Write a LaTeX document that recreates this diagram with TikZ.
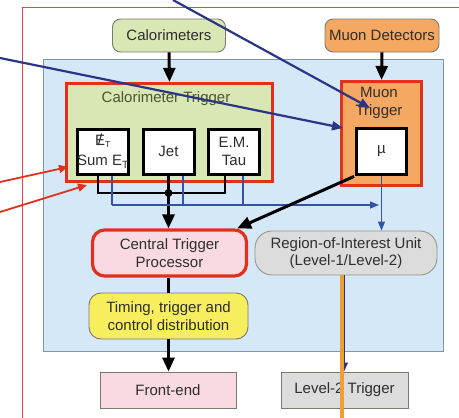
\documentclass[tikz,border=0pt]{standalone}
\usepackage{fontspec}
\setmainfont{Liberation Sans}
\usetikzlibrary{arrows.meta}
\definecolor{skyfill}{HTML}{D5E8F8}
\definecolor{skyline}{HTML}{7F95A8}
\definecolor{greenfill}{HTML}{D9E7B4}
\definecolor{orangefill}{HTML}{F4A862}
\definecolor{redline}{HTML}{E0301E}
\definecolor{pinkfill}{HTML}{F9D9E2}
\definecolor{greyfill}{HTML}{DCDCDC}
\definecolor{yellowfill}{HTML}{F7EE5E}
\definecolor{navy}{HTML}{2C3585}
\definecolor{busblue}{HTML}{3452A6}
\definecolor{orangeline}{HTML}{F0A032}
\definecolor{frame}{HTML}{D44A4A}
\definecolor{txt}{HTML}{2E2E2E}
\definecolor{oltxt}{HTML}{4A5530}
\definecolor{edge}{HTML}{7A7A70}
\tikzset{
  lbl/.style={font=\fontsize{15}{17.5}\selectfont, text=txt, align=center, inner sep=0pt},
  softbox/.style={lbl, draw=edge, line width=0.9pt, rounded corners=#1},
  redbox/.style={lbl, draw=redline, line width=3.2pt},
  subbox/.style={lbl, draw=black, fill=white, line width=3pt, minimum width=51pt, minimum height=45pt},
  plainbox/.style={lbl, draw=edge, line width=0.9pt},
  blk/.style={draw=black, line width=3pt, -{Triangle[length=14pt,width=12pt]}},
  blkline/.style={draw=black, line width=3pt},
  bus/.style={draw=black, line width=2.2pt},
  bbus/.style={draw=busblue, line width=1.4pt},
  barrow/.style={bbus, -{Triangle[length=9pt,width=7pt]}},
  narrow/.style={draw=navy, line width=2.2pt, -{Triangle[length=11pt,width=9pt]}},
  rarrow/.style={draw=redline, line width=1.8pt, -{Triangle[length=9pt,width=8pt]}}
}
\begin{document}
\begin{tikzpicture}[x=1pt,y=-1pt]
\useasboundingbox (0,0) rectangle (459,418);
% outer frame
\coordinate (fbl) at (22,418);
\coordinate (ftl) at (22,7);
\coordinate (ftr) at (459,7);
\draw[frame, line width=1pt] (fbl) -- (ftl) -- (ftr);
% blue background
\node[draw=skyline, fill=skyfill, line width=0.9pt, minimum width=400pt, minimum height=292pt, inner sep=0pt] (bg) at (243,205) {};
% sources
\node[softbox=8pt, fill=greenfill, minimum width=113pt, minimum height=33pt] (calo) at (169,35.5) {Calorimeters};
\node[softbox=8pt, fill=orangefill, minimum width=114pt, minimum height=33pt] (muondet) at (382,35.5) {Muon Detectors};
% trigger containers
\node[redbox, fill=greenfill, minimum width=206pt, minimum height=98pt] (caltrig) at (169.5,132.5) {};
\node[redbox, fill=orangefill, minimum width=80pt, minimum height=104pt] (muontrig) at (381.5,133.5) {};
\node[lbl, text=oltxt] (caltitle) at (166,99) {Calorimeter Trigger};
\node[lbl] (mutitle) at (379,103) {Muon\\Trigger};
% sub boxes
\node[subbox] (et) at (103,151.5) {\fontsize{12.5}{14}\selectfont\ooalign{\fontsize{15}{15}\selectfont E\cr\hidewidth\fontsize{16}{16}\selectfont/\hidewidth}\textsubscript{T}\\[3pt]Sum E\textsubscript{T}};
\node[subbox] (jet) at (168.5,151.5) {Jet};
\node[subbox] (em) at (234,151.5) {E.M.\\Tau};
\node[subbox, minimum width=50pt, minimum height=46pt] (mu) at (381.5,151.5) {\textmu};
% lower boxes
\node[redbox, fill=pinkfill, rounded corners=12pt, minimum width=154pt, minimum height=46pt] (ctp) at (169.5,253) {Central Trigger\\Processor};
\node[softbox=17pt, draw=edge!80, fill=greyfill, minimum width=182pt, minimum height=44pt] (roi) at (346,253) {Region-of-Interest Unit\\(Level-1/Level-2)};
\node[softbox=12pt, draw=edge, fill=yellowfill, minimum width=159pt, minimum height=46pt] (timing) at (168.5,316) {Timing, trigger and\\control distribution};
\node[plainbox, fill=pinkfill, minimum width=136pt, minimum height=36pt] (fe) at (168,390) {Front-end};
\node[plainbox, fill=greyfill, minimum width=127pt, minimum height=36pt] (l2) at (344.5,390) {Level-2 Trigger};
% source arrows
\draw[blk] (calo.south) -- (caltrig.north);
\draw[blk] (muondet.south) -- (muontrig.north);
% black bus
\coordinate (jn) at (168.5,193);
\draw[bus] ([xshift=-5pt]et.south) |- (jn) -| ([xshift=-9pt]em.south);
\draw[bus] (jet.south) -- (jn);
\fill (jn) circle (4pt);
\draw[blk] (jn) -- (jn |- ctp.north);
% blue bus
\coordinate (bb) at (112,205);
\coordinate (btip) at (379,205);
\coordinate (jb) at ([xshift=14.5pt]jet.south);
\coordinate (eb) at ([xshift=9pt]em.south);
\draw[bbus] ([xshift=9pt]et.south) -- (bb);
\draw[bbus] (jb) -- (bb -| jb);
\draw[bbus] (eb) -- (bb -| eb);
\draw[barrow] (bb) -- (btip);
\draw[barrow] (mu.south) -- (mu.south |- roi.north);
% mu to ctp
\draw[blk, shorten <=1pt] (mu.south west) -- ([xshift=-11pt]ctp.north east);
% ctp to timing to front-end
\draw[blkline] (ctp.south -| jn) -- (timing.north -| jn);
\draw[blk] (timing.south -| jn) -- (fe.north -| jn);
% roi to level-2 (mostly hidden)
\coordinate (rs) at ([xshift=-2pt]roi.south);
\draw[draw=navy, line width=1.2pt, -{Triangle[length=9pt,width=8pt]}] (rs) -- (rs |- l2.north);
% orange line
\coordinate (obot) at (342,418);
\draw[orangeline, line width=3.5pt] (roi.south -| obot) -- (obot);
% incoming navy arrows
\coordinate (n1s) at (173,0);
\coordinate (n1e) at (370,108);
\coordinate (n2s) at (0,58);
\coordinate (n2e) at (343,128);
\draw[narrow] (n1s) -- (n1e);
\draw[narrow] (n2s) -- (n2e);
% incoming red arrows
\coordinate (r1s) at (0,182);
\coordinate (r1e) at (68,167);
\coordinate (r2s) at (0,212);
\coordinate (r2e) at (87,185);
\draw[rarrow] (r1s) -- (r1e);
\draw[rarrow] (r2s) -- (r2e);
\end{tikzpicture}
\end{document}
